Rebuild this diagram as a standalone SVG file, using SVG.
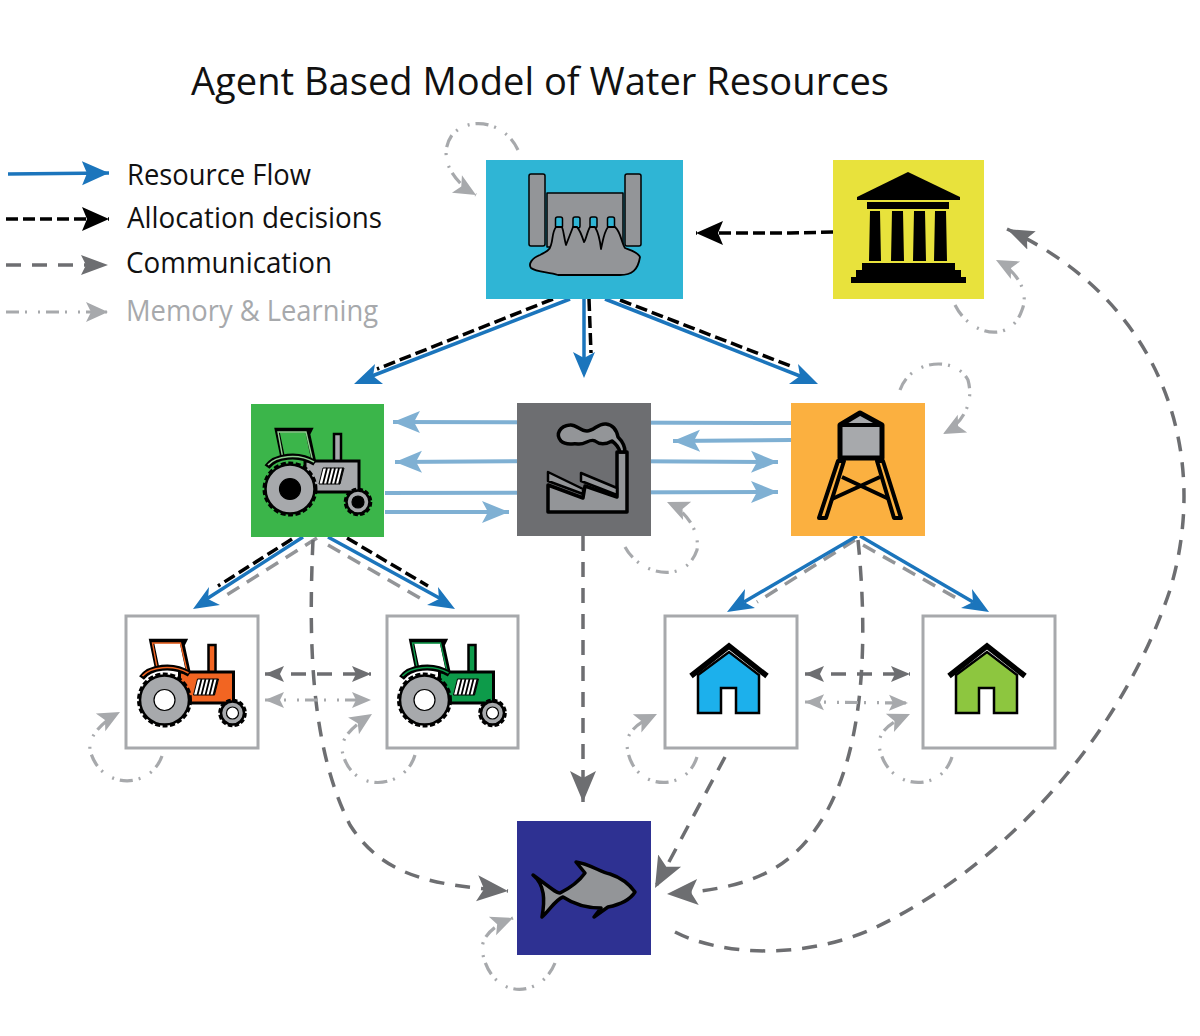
<svg xmlns="http://www.w3.org/2000/svg" width="1200" height="1036" viewBox="0 0 1200 1036">
<style>
text{font-family:"Open Sans","Noto Sans","Liberation Sans",sans-serif}
.title{font-size:39px;fill:#111}
.leg{font-size:29px;fill:#111}
.box{stroke:#a7a9ac;stroke-width:3;fill:#fff}
.flow{fill:none;stroke:#1b75bc;stroke-width:3.5}
.head{fill:#1b75bc}
.alloc{fill:none;stroke:#000;stroke-width:3.5;stroke-dasharray:12 5}
.comm{fill:none;stroke:#6d6e71;stroke-width:3.5;stroke-dasharray:15 11}
.soft{fill:none;stroke:#939598;stroke-width:3.5;stroke-dasharray:14 9}
.mem{fill:none;stroke:#a7a9ac;stroke-width:3.2;stroke-dasharray:13 6 2 11 2 6}
.lite{fill:none;stroke:#7fb0d3;stroke-width:4}
.ic{stroke:#000;stroke-width:3.5;stroke-linejoin:round;fill:#939598}
</style>
<defs>
<marker id="aBlue" markerUnits="userSpaceOnUse" markerWidth="28" markerHeight="26" refX="27" refY="13" orient="auto"><path d="M0 1L27 13L0 25L5 13Z" fill="#1b75bc"/></marker>
<marker id="aBlack" markerUnits="userSpaceOnUse" markerWidth="28" markerHeight="26" refX="27" refY="13" orient="auto"><path d="M0 1L27 13L0 25L5 13Z" fill="#000"/></marker>
<marker id="aGrey" markerUnits="userSpaceOnUse" markerWidth="32" markerHeight="28" refX="31" refY="14" orient="auto"><path d="M0 1L31 14L0 27L7 14Z" fill="#6d6e71"/></marker>
<marker id="aGreyM" markerUnits="userSpaceOnUse" markerWidth="28" markerHeight="26" refX="27" refY="13" orient="auto"><path d="M0 3L27 13L0 23L5 13Z" fill="#6d6e71"/></marker>
<marker id="aGreyS" markerUnits="userSpaceOnUse" markerWidth="28" markerHeight="26" refX="27" refY="13" orient="auto-start-reverse"><path d="M8 5L27 13L8 21L12 13Z" fill="#6d6e71"/></marker>
<marker id="aMem" markerUnits="userSpaceOnUse" markerWidth="28" markerHeight="26" refX="27" refY="13" orient="auto"><path d="M5 3L27 13L5 23L10 13Z" fill="#a7a9ac"/></marker>
<marker id="aMemS" markerUnits="userSpaceOnUse" markerWidth="28" markerHeight="26" refX="27" refY="13" orient="auto-start-reverse"><path d="M8 5L27 13L8 21L12 13Z" fill="#a7a9ac"/></marker>
<marker id="aLite" markerUnits="userSpaceOnUse" markerWidth="28" markerHeight="26" refX="27" refY="13" orient="auto"><path d="M0 2L27 13L0 24L6 13Z" fill="#7fb0d3"/></marker>
<g id="tractor">
<path d="M-7 -30L-13 -59L20 -59L18 -55L24 -27" fill="none" stroke="#000" stroke-width="4.5"/>
<path d="M-7 -30L-12 -57L16 -57L23 -27" fill="none" style="stroke:var(--trim)" stroke-width="1.4"/>
<rect x="44" y="-55" width="7" height="30" style="fill:var(--body)" stroke="#000" stroke-width="2.5"/>
<path d="M15 -28L69 -28L69 3L15 3Z" style="fill:var(--body)" stroke="#000" stroke-width="3"/>
<path d="M-23 -22C-15 -33 8 -37 25 -26" fill="none" stroke="#000" stroke-width="6"/>
<path d="M-22 -24C-14 -33 8 -36 24 -27" fill="none" style="stroke:var(--trim)" stroke-width="1.6"/>
<path d="M33 -21L54 -21L50 -5L29 -5Z" fill="#fff" stroke="#000" stroke-width="1"/>
<path d="M37 -21L33 -5M41 -21L37 -5M45 -21L41 -5M49 -21L45 -5M53 -21L49 -5" stroke="#000" stroke-width="1.8"/>
<circle r="24.5" fill="#a7a9ac" stroke="#000" stroke-width="2.5"/>
<circle r="26" fill="none" stroke="#000" stroke-width="3" stroke-dasharray="5 2.5"/>
<circle r="10.5" style="fill:var(--hub)" stroke="#000" stroke-width="1.2"/>
<g transform="translate(68 13)">
<circle r="11.5" fill="#a7a9ac" stroke="#000" stroke-width="2.5"/>
<circle r="12.8" fill="none" stroke="#000" stroke-width="3" stroke-dasharray="4.5 2.2"/>
<circle r="6" style="fill:var(--hub)" stroke="#000" stroke-width="1.2"/>
</g>
</g>
<g id="house">
<path d="M-31 34L0 11L30 34L30 72L7 72L7 47L-8 47L-8 72L-31 72Z" style="fill:var(--wall)" stroke="#000" stroke-width="2.5"/>
<path d="M-38 35L0 5L38 35" fill="none" stroke="#000" stroke-width="5.5"/>
</g>
</defs>

<text class="title" x="191" y="95" textLength="698" lengthAdjust="spacingAndGlyphs">Agent Based Model of Water Resources</text>

<g id="legend">
<path class="flow" d="M8 174L109 173" marker-end="url(#aBlue)"/>
<path class="alloc" d="M6 219L109 219" marker-end="url(#aBlack)"/>
<path class="comm" d="M6 265L108 265" marker-end="url(#aGreyM)"/>
<path class="mem" d="M6 312L108 312" marker-end="url(#aMem)"/>
<text class="leg" x="127" y="185" textLength="184" lengthAdjust="spacingAndGlyphs">Resource Flow</text>
<text class="leg" x="127" y="228" textLength="255" lengthAdjust="spacingAndGlyphs">Allocation decisions</text>
<text class="leg" x="126" y="273" textLength="206" lengthAdjust="spacingAndGlyphs">Communication</text>
<text class="leg" x="126" y="321" textLength="252" lengthAdjust="spacingAndGlyphs" style="fill:#a7a9ac">Memory &amp; Learning</text>
</g>

<g id="connectors">
<path class="lite" d="M791 423L393 422" marker-end="url(#aLite)"/>
<path class="lite" d="M791 440L673 441" marker-end="url(#aLite)"/>
<path class="lite" d="M560 461L395 462" marker-end="url(#aLite)"/>
<path class="lite" d="M600 461L778 462" marker-end="url(#aLite)"/>
<path class="lite" d="M385 493L778 492" marker-end="url(#aLite)"/>
<path class="lite" d="M385 512L509 512" marker-end="url(#aLite)"/>

<path class="alloc" d="M553 299L377 369"/>
<path class="flow" d="M570 299L372 376"/>
<path class="head" d="M354 384L375 364L373 376L383 384Z"/>
<path class="alloc" d="M589 299L591 353"/>
<path class="flow" d="M584 299L584 358"/>
<path class="head" d="M584 378L573 352L584 358L595 352Z"/>
<path class="alloc" d="M620 300L793 367"/>
<path class="flow" d="M605 299L805 378"/>
<path class="head" d="M818 384L798 364L800 376L789 384Z"/>
<path class="alloc" d="M833 232L790 233L696 233" marker-end="url(#aBlack)"/>

<path class="alloc" d="M292 539L218 586"/>
<path class="soft" d="M317 538L222 598"/>
<path class="flow" d="M303 537L205 600"/>
<path class="head" d="M193 609L209 587L208 599L220 605Z"/>
<path class="alloc" d="M347 538L428 586"/>
<path class="soft" d="M328 545L425 601"/>
<path class="flow" d="M328 537L443 600"/>
<path class="head" d="M455 609L438 587L439 599L427 605Z"/>
<path class="soft" d="M855 540L757 602"/>
<path class="flow" d="M857 536L744 602"/>
<path class="head" d="M727 612L745 589L744 602L755 608Z"/>
<path class="soft" d="M863 545L958 599"/>
<path class="flow" d="M860 536L973 602"/>
<path class="head" d="M989 612L972 589L973 602L961 608Z"/>

<path class="comm" d="M313 540C308 650 312 750 350 825C385 880 440 885 508 891" marker-end="url(#aGrey)"/>
<path class="comm" d="M583 536L583 802" marker-end="url(#aGrey)"/>
<path class="comm" d="M858 540C868 640 866 760 815 830C780 880 730 890 667 894" marker-end="url(#aGrey)"/>
<path class="comm" d="M725 757L655 888" marker-end="url(#aGrey)"/>
<path class="comm" d="M675 932C720 955 800 960 870 930C1000 870 1120 740 1170 590C1212 450 1160 300 1007 229" marker-end="url(#aGreyM)"/>
<path class="comm" d="M265 674L371 674" marker-start="url(#aGreyS)" marker-end="url(#aGreyS)"/>
<path class="comm" d="M805 674L910 674" marker-start="url(#aGreyS)" marker-end="url(#aGreyS)"/>
<path class="mem" d="M265 700L371 700" marker-start="url(#aMemS)" marker-end="url(#aMemS)"/>
<path class="mem" d="M805 702L908 703" marker-start="url(#aMemS)" marker-end="url(#aMemS)"/>

<path class="mem" d="M518 150C505 122 470 115 452 135C438 155 450 180 476 195" marker-end="url(#aMem)"/>
<path class="mem" d="M955 305C970 335 1010 345 1022 310C1030 290 1015 270 996 260" marker-end="url(#aMem)"/>
<path class="mem" d="M900 390C910 360 955 355 968 380C975 405 960 425 943 434" marker-end="url(#aMem)"/>
<path class="mem" d="M625 547C640 575 685 585 697 550C700 530 685 510 667 502" marker-end="url(#aMem)"/>
<path class="mem" d="M162 756C150 790 100 790 90 750C88 735 105 720 120 712" marker-end="url(#aMem)"/>
<path class="mem" d="M415 755C405 790 350 795 342 750C342 735 355 725 372 714" marker-end="url(#aMem)"/>
<path class="mem" d="M697 757C685 795 630 790 627 745C627 730 640 722 657 714" marker-end="url(#aMem)"/>
<path class="mem" d="M952 757C940 795 885 790 879 745C879 730 892 722 910 714" marker-end="url(#aMem)"/>
<path class="mem" d="M555 963C540 1000 490 1000 482 950C482 935 495 925 513 918" marker-end="url(#aMem)"/>
</g>

<g id="dam">
<rect x="486" y="160" width="197" height="139" fill="#2fb5d5"/>
<g class="ic" style="stroke-width:1.5">
<rect x="529" y="174" width="16" height="72" rx="2"/>
<rect x="625" y="174" width="16" height="72" rx="2"/>
<rect x="547" y="193" width="76" height="54"/>
</g>
<g fill="#2fb5d5" stroke="#000" stroke-width="1.5">
<rect x="555.500" y="217" width="7" height="11" rx="2"/>
<rect x="573" y="217" width="7" height="11" rx="2"/>
<rect x="590" y="217" width="7" height="11" rx="2"/>
<rect x="607.500" y="217" width="7" height="11" rx="2"/>
</g>
<path class="ic" style="stroke-width:1.8" d="M556 227C552 232 553 240 551 245C550 250 546 252 540 255C532 258 528 264 531 268C536 272 548 272 558 275L620 275C632 275 638 270 640 257C638 252 630 250 625 248C621 242 621 232 615 227L608 227C604 232 603 240 601 249C600 240 598 232 595 227L590 227C587 232 586 240 584 242C582 236 580 230 577 227L573 227C571 232 568 240 566 245C564 238 564 232 562 227Z"/>
</g>

<g id="government">
<rect x="833" y="160" width="151" height="139" fill="#e8e23c"/>
<path d="M908 172L960 197L960 200L857 200L857 197Z"/>
<rect x="867" y="202" width="82" height="7"/>
<path d="M870 211L880 211L881 261L869 261ZM892 211L903 211L904 261L891 261ZM914 211L925 211L926 261L913 261ZM935 211L946 211L947 261L934 261Z"/>
<path d="M862 263L955 263L955 270L961 270L961 277L966 277L966 283L851 283L851 277L856 277L856 270L862 270Z"/>
</g>

<g id="farm">
<rect x="251" y="404" width="133" height="133" fill="#3bb54a"/>
<use href="#tractor" x="290" y="489" style="--body:#a7a9ac;--trim:#8fcf8f;--hub:#000"/>
</g>

<g id="factory">
<rect x="517" y="403" width="134" height="133" fill="#6d6e71"/>
<path class="ic" d="M548 485L583 498L585 486L617 497L617 452L627 452L627 512L548 512Z"/>
<path class="ic" style="stroke-width:2.5" d="M548 472L583 489L583 494L548 481ZM581 473L617 488L617 495L581 481Z"/>
<path class="ic" d="M570 425C576 424 580 431 587 431C594 431 598 423 606 424C614 425 617 432 618 437C622 441 625 446 625 452L620 452C619 448 616 444 612 441C605 445 600 445 595 441C590 438 585 445 578 444C572 443 566 446 561 441C555 434 560 426 570 425Z"/>
</g>

<g id="tower">
<rect x="791" y="403" width="134" height="133" fill="#fbb040"/>
<path d="M842 477L889 499M880 477L832 499" stroke="#000" stroke-width="4"/>
<path d="M838 461L844 461L826 518L819 518ZM877 461L883 461L901 518L894 518Z" fill="#fbb040" stroke="#000" stroke-width="4" stroke-linejoin="round"/>
<path d="M840 425L860 413L882 425L882 458L840 458Z" fill="#a7a9ac" stroke="#000" stroke-width="5" stroke-linejoin="round"/>
<path d="M840 425L882 425" stroke="#000" stroke-width="4"/>
</g>

<g id="farmer-orange">
<rect class="box" x="126" y="616" width="132" height="132"/>
<use href="#tractor" x="164.500" y="700" style="--body:#f26522;--trim:#f26522;--hub:#fff"/>
</g>
<g id="farmer-green">
<rect class="box" x="387" y="616" width="131" height="132"/>
<use href="#tractor" x="424.500" y="700" style="--body:#0d9b4a;--trim:#0d9b4a;--hub:#fff"/>
</g>
<g id="house-blue">
<rect class="box" x="665" y="616" width="132" height="132"/>
<use href="#house" x="729" y="641" style="--wall:#1cb0ec"/>
</g>
<g id="house-green">
<rect class="box" x="923" y="616" width="132" height="132"/>
<use href="#house" x="987" y="641" style="--wall:#8dc63f"/>
</g>

<g id="fish">
<rect x="517" y="821" width="134" height="134" fill="#2e3192"/>
<path class="ic" d="M533 875L552 889C556 892 558 893 560 893C570 888 580 880 585 873L576 862C590 864 600 872 610 874C622 878 630 885 635 892C630 900 618 905 608 907L594 917L601 908C590 908 575 905 563 897C555 900 550 910 542 917C545 900 545 885 533 875Z"/>
</g>
</svg>
